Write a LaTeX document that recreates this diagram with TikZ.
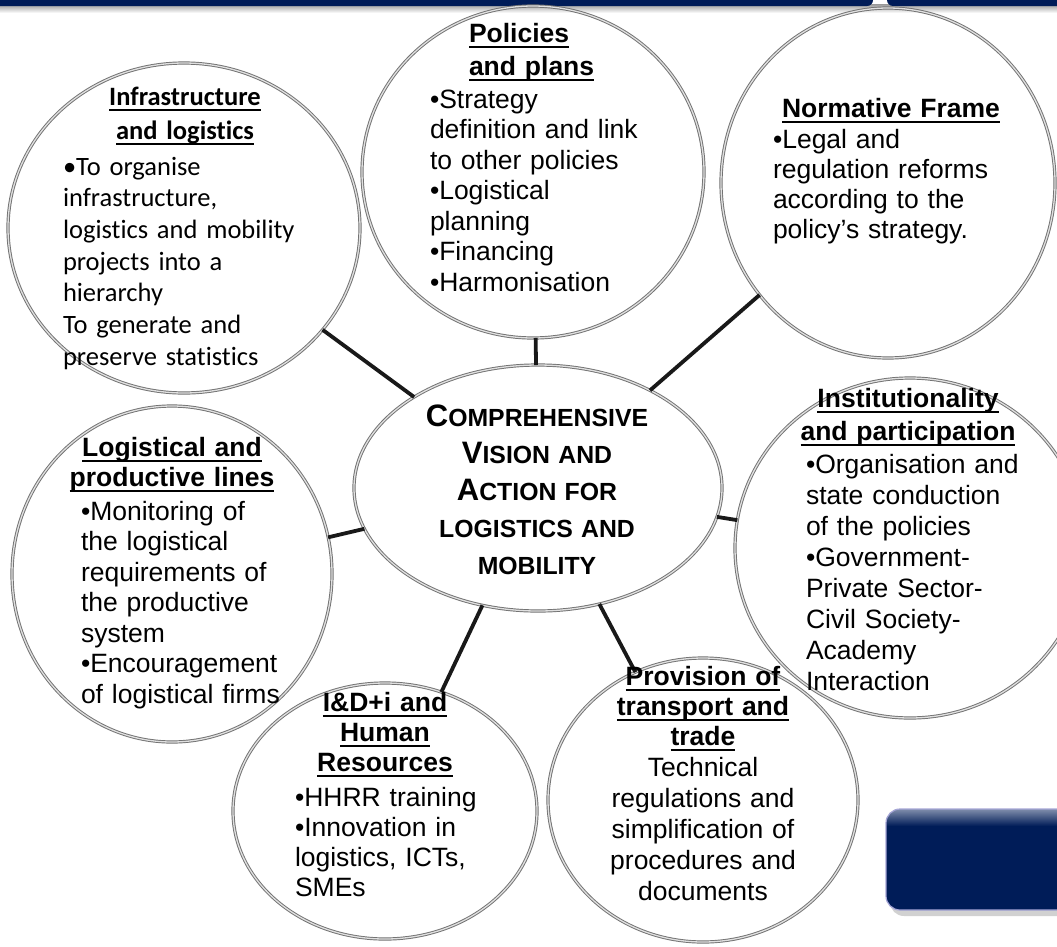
\documentclass[tikz,border=0pt]{standalone}
\usepackage{fontspec}
\setmainfont{Liberation Sans}
\newfontfamily\calibf[Ligatures={NoCommon}]{Carlito}
\usetikzlibrary{shapes.geometric}
\definecolor{navy}{RGB}{0,28,88}
\newcommand\ulx[1]{\leavevmode\setbox0\hbox{#1}\rlap{\rule[-5.5pt]{\wd0}{2pt}}\box0}
\newcommand\scA[1]{{\fontsize{31}{37}\selectfont #1}}
\newcommand\scB[1]{{\fontsize{24.8}{37}\selectfont #1}}
\tikzset{
  circ/.style={ellipse, draw=black!55, double=black!12, double distance=1.3pt,
    line width=0.95pt, inner sep=0pt, outer sep=0pt},
  conn/.style={line width=3.8pt, draw=black!90},
  txt/.style={inner sep=0pt, outer sep=0pt, text width=330pt},
  lft/.style={txt, anchor=base west, align=left},
  ctr/.style={txt, anchor=base, align=center},
}
\begin{document}
\begin{tikzpicture}[x=1pt,y=-1pt]
\useasboundingbox (0,0) rectangle (1057,946);
\fill[white] (0,0) rectangle (1057,946);
% top bars
\shade[top color=black!40, bottom color=white] (0,4) rectangle (1057,13);
\fill[navy, rounded corners=6pt] (-10,-10) rectangle (873,6);
\fill[navy, rounded corners=6pt] (887,6) rectangle (1070,-10);
% bottom-right box
\fill[black!18, rounded corners=14pt] (890,814) rectangle (1075,916);
\fill[navy, rounded corners=14pt] (886,809) rectangle (1075,910);
\begin{scope}
  \clip[rounded corners=14pt] (886,809) rectangle (1075,910);
  \shade[top color=navy!50!white, bottom color=navy] (886,809) rectangle (1075,826);
\end{scope}
\draw[black!45!blue!35, line width=1.2pt, rounded corners=14pt] (886,809) rectangle (1075,910);

% ellipses
\node[circ, minimum width=368pt, minimum height=246pt] (cen) at (538,488) {};
\node[circ, minimum width=352pt, minimum height=330pt] (infra) at (184,228) {};
\node[circ, minimum width=342pt, minimum height=332pt] (pol) at (533,172) {};
\node[circ, minimum width=334pt, minimum height=350pt] (norm) at (888,183) {};
\node[circ, minimum width=350pt, minimum height=340pt] (inst) at (910,548) {};
\node[circ, minimum width=320pt, minimum height=336pt] (logi) at (172,574) {};
\node[circ, minimum width=304pt, minimum height=256pt] (idi) at (385,811) {};
\node[circ, minimum width=310pt, minimum height=284pt] (prov) at (703,800) {};

% connectors
\foreach \n in {infra,pol,norm,inst,logi,idi,prov}
  \draw[conn] (cen) -- (\n);

% texts
\node[ctr, font=\calibf\fontsize{26.5}{34}\selectfont\bfseries] (infT) at (185,105)
  {\ulx{Infrastructure}\\\ulx{and logistics}};
\node[lft, font=\calibf\fontsize{26.5}{31.7}\selectfont] (infB) at (63,175)
  {•To organise\\infrastructure,\\logistics and mobility\\projects into a\\hierarchy\\To generate and\\preserve statistics};

\node[lft, font=\fontsize{26.5}{33}\selectfont\bfseries] (polT) at (469,42)
  {\ulx{Policies}\\\ulx{and plans}};
\node[lft, font=\fontsize{26.5}{30.5}\selectfont] (polB) at (430,108)
  {•Strategy\\definition and link\\to other policies\\•Logistical\\planning\\•Financing\\•Harmonisation};

\node[ctr, font=\fontsize{26.5}{30}\selectfont\bfseries] (normT) at (891,117)
  {\ulx{Normative Frame}};
\node[lft, font=\fontsize{26.5}{30}\selectfont] (normB) at (773,148)
  {•Legal and\\regulation reforms\\according to the\\policy’s strategy.};

\node[ctr, font=\fontsize{26.5}{33}\selectfont\bfseries] (instT) at (908,407)
  {\ulx{Institutionality}\\\ulx{and participation}};
\node[lft, font=\fontsize{26.5}{31}\selectfont] (instB) at (806,473)
  {•Organisation and\\state conduction\\of the policies\\•Government-\\Private Sector-\\Civil Society-\\Academy\\Interaction};

\node[ctr, font=\fontsize{26.5}{30}\selectfont\bfseries] (logiT) at (172,456)
  {\ulx{Logistical and}\\\ulx{productive lines}};
\node[lft, font=\fontsize{26.5}{30.5}\selectfont] (logiB) at (81,520)
  {•Monitoring of\\the logistical\\requirements of\\the productive\\system\\•Encouragement\\of logistical firms};

\node[ctr, font=\fontsize{26.5}{30}\selectfont\bfseries] (idiT) at (385,711)
  {\ulx{I\&D+i and}\\\ulx{Human}\\\ulx{Resources}};
\node[lft, font=\fontsize{26.5}{30}\selectfont] (idiB) at (295,806)
  {•HHRR training\\•Innovation in\\logistics, ICTs,\\SMEs};

\node[ctr, font=\fontsize{26.5}{30}\selectfont\bfseries] (provT) at (703,685)
  {\ulx{Provision of}\\\ulx{transport and}\\\ulx{trade}};
\node[ctr, font=\fontsize{26.5}{31}\selectfont] (provB) at (703,776)
  {Technical\\regulations and\\simplification of\\procedures and\\documents};

\node[ctr, font=\fontsize{24.8}{37}\selectfont\bfseries] (cenT) at (537,426)
  {\scA{C}\scB{OMPREHENSIVE}\\\scA{V}\scB{ISION AND}\\\scA{A}\scB{CTION FOR}\\\scB{LOGISTICS AND}\\\scB{MOBILITY}};
\end{tikzpicture}
\end{document}
